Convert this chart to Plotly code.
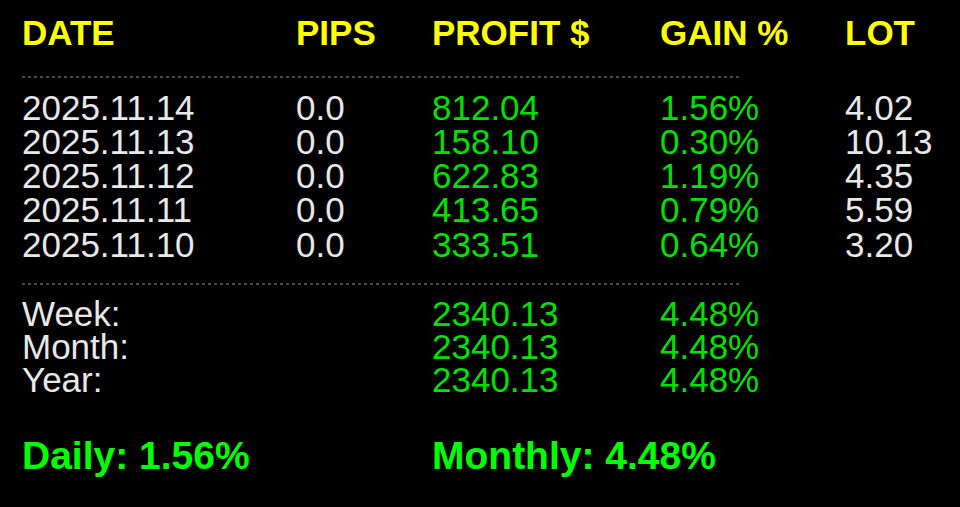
import plotly.graph_objects as go

# data
headers = ["DATE", "PIPS", "PROFIT $", "GAIN %", "LOT"]
dates = ["2025.11.14", "2025.11.13", "2025.11.12", "2025.11.11", "2025.11.10"]
pips = ["0.0", "0.0", "0.0", "0.0", "0.0"]
profit = ["812.04", "158.10", "622.83", "413.65", "333.51"]
gain = ["1.56%", "0.30%", "1.19%", "0.79%", "0.64%"]
lots = ["4.02", "10.13", "4.35", "5.59", "3.20"]
periods = ["Week:", "Month:", "Year:"]
period_profit = ["2340.13", "2340.13", "2340.13"]
period_gain = ["4.48%", "4.48%", "4.48%"]
summary = ["Daily: 1.56%", "Monthly: 4.48%"]

# layout (pixel-like axis units)
col_x = [22, 296, 432, 660, 845]
header_y = 36
row_y0, row_dy = 111, 34.2
period_y0 = 317
summary_y = 459
summary_x = [22, 432]

YELLOW = "#ffff00"
GREEN = "#00e000"
WHITE = "#e8e8e8"
FONT = "Liberation Sans, Arial, sans-serif"

fig = go.Figure()

def add_text(xs, ys, texts, color, size=35, bold=False):
    fig.add_trace(go.Scatter(
        x=xs, y=ys, text=texts, mode="text", textposition="middle right",
        textfont=dict(family=FONT, size=size, color=color,
                      weight="bold" if bold else "normal"),
        hoverinfo="skip", showlegend=False))

add_text(col_x, [header_y] * 5, headers, YELLOW, size=35, bold=True)

rows_y = [row_y0 + i * row_dy for i in range(len(dates))]
add_text([col_x[0]] * 5, rows_y, dates, WHITE)
add_text([col_x[1]] * 5, rows_y, pips, WHITE)
add_text([col_x[2]] * 5, rows_y, profit, GREEN)
add_text([col_x[3]] * 5, rows_y, gain, GREEN)
add_text([col_x[4]] * 5, rows_y, lots, WHITE)

per_y = [period_y0 + i * 33 for i in range(len(periods))]
add_text([col_x[0]] * 3, per_y, periods, WHITE)
add_text([col_x[2]] * 3, per_y, period_profit, GREEN)
add_text([col_x[3]] * 3, per_y, period_gain, GREEN)

add_text(summary_x, [summary_y] * 2, summary, "#00ff00", size=39, bold=True)

for y in (77, 284):
    fig.add_shape(type="line", x0=22, x1=740, y0=y, y1=y,
                  line=dict(color="#909090", width=1, dash="dot"))

fig.update_xaxes(range=[0, 960], visible=False, fixedrange=True)
fig.update_yaxes(range=[507, 0], visible=False, fixedrange=True)
fig.update_layout(width=960, height=507, margin=dict(l=0, r=0, t=0, b=0),
                  paper_bgcolor="black", plot_bgcolor="black")

fig.write_html("out.html", config={"displayModeBar": False},
               post_script="document.body.style.margin='0';document.body.style.background='black';")
